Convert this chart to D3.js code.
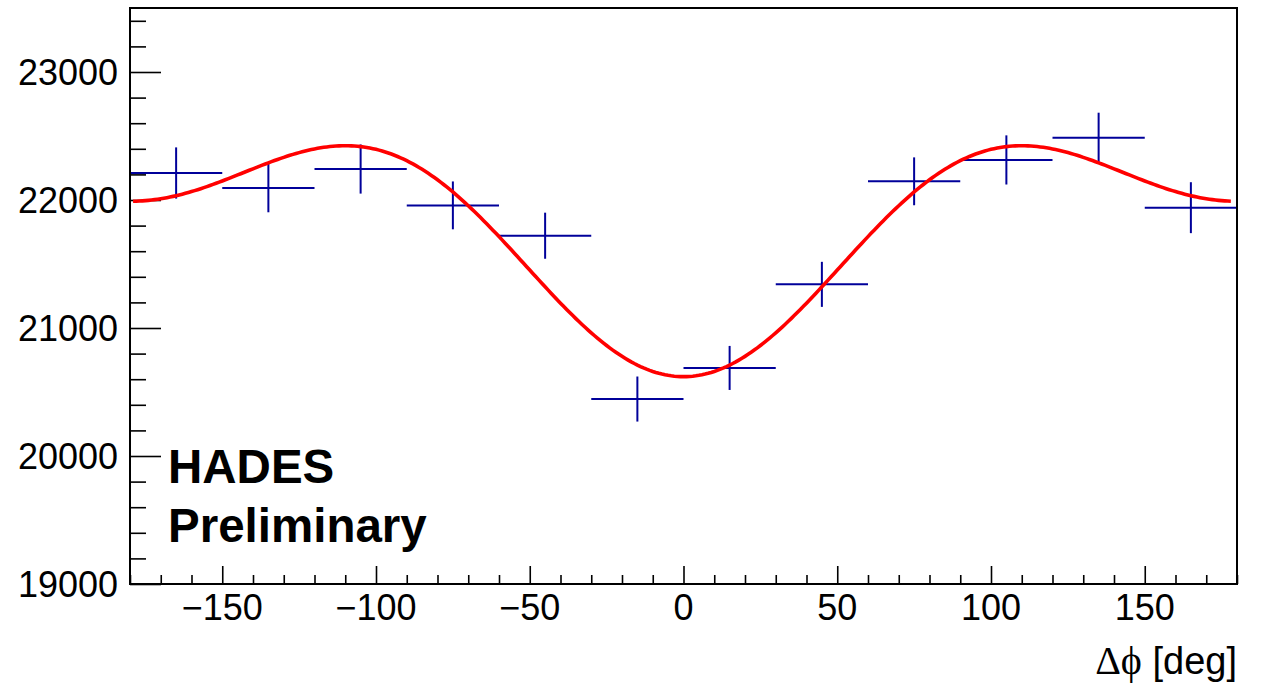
<!DOCTYPE html>
<html>
<head>
<meta charset="utf-8">
<script src="https://cdn.jsdelivr.net/npm/d3@7"></script>
<style>
  body { margin: 0; background: #fff; }
  svg { display: block; }
</style>
</head>
<body>
<div id="chart"></div>
<script>
// Bin centres (deg), counts and their errors
const binCenters = [-165, -135, -105, -75, -45, -15, 15, 45, 75, 105, 135, 165];
const counts     = [22211, 22094, 22242, 21958, 21721, 20445, 20688, 21341, 22146, 22313, 22487, 21940];
const countErrs  = [200, 190, 192, 187, 180, 176, 172, 176, 187, 192, 195, 199];
const binHalfWidth = 15;

// Fit: p0 + p1*cos(dphi) + p2*cos(2*dphi)
const fitParams = [21806, -685, -501];

const xTickLabels = [-150, -100, -50, 0, 50, 100, 150];
const yTickLabels = [19000, 20000, 21000, 22000, 23000];

const width = 1261, height = 687;
const margin = { top: 8, right: 24, bottom: 103, left: 130 };

const svg = d3.select("#chart").append("svg")
  .attr("width", width)
  .attr("height", height);

const x = d3.scaleLinear().domain([-180, 180]).range([margin.left, width - margin.right]);
const y = d3.scaleLinear().domain([19000, 23500]).range([height - margin.bottom, margin.top]);

const font = "'Liberation Sans', Arial, Helvetica, sans-serif";
const dataColor = "#00009a";

// clip to frame
svg.append("defs").append("clipPath").attr("id", "frame")
  .append("rect")
  .attr("x", margin.left).attr("y", margin.top)
  .attr("width", width - margin.left - margin.right)
  .attr("height", height - margin.top - margin.bottom);

// axes: ticks drawn inside the frame like ROOT
const xAxis = d3.axisBottom(x)
  .tickValues(d3.range(-180, 181, 10))
  .tickSize(0)
  .tickFormat("");
const gx = svg.append("g").attr("transform", `translate(0,${height - margin.bottom})`).call(xAxis);
gx.select(".domain").remove();
gx.selectAll(".tick line")
  .attr("y2", d => (d % 50 === 0 ? -18 : -9))
  .attr("stroke", "#000").attr("stroke-width", 1.6);

const yAxis = d3.axisLeft(y)
  .tickValues(d3.range(19000, 23501, 200))
  .tickSize(0)
  .tickFormat("");
const gy = svg.append("g").attr("transform", `translate(${margin.left},0)`).call(yAxis);
gy.select(".domain").remove();
gy.selectAll(".tick line")
  .attr("x2", d => (d % 1000 === 0 ? 31 : 16))
  .attr("stroke", "#000").attr("stroke-width", 1.6);

// tick labels
svg.append("g").selectAll("text")
  .data(xTickLabels)
  .enter().append("text")
  .attr("x", d => x(d))
  .attr("y", height - margin.bottom + 36)
  .attr("text-anchor", "middle")
  .attr("font-family", font)
  .attr("font-size", 36)
  .text(d => d < 0 ? "\u2212" + Math.abs(d) : d);

svg.append("g").selectAll("text")
  .data(yTickLabels)
  .enter().append("text")
  .attr("x", margin.left - 12)
  .attr("y", d => y(d) + 12.5)
  .attr("text-anchor", "end")
  .attr("font-family", font)
  .attr("font-size", 36)
  .text(d => d);

// axis title
const title = svg.append("text")
  .attr("x", width - margin.right)
  .attr("y", 674)
  .attr("text-anchor", "end")
  .attr("font-family", font)
  .attr("font-size", 38);
title.append("tspan").attr("font-family", "'Liberation Serif', serif").attr("font-size", 40).text("\u0394\u03D5");
title.append("tspan").text(" [deg]");

const plot = svg.append("g").attr("clip-path", "url(#frame)");

// data points with error bars
const pts = binCenters.map((c, i) => ({ c, v: counts[i], e: countErrs[i] }));
const pg = plot.append("g").attr("stroke", dataColor).attr("stroke-width", 2);
pg.selectAll("line.h").data(pts).enter().append("line")
  .attr("class", "h")
  .attr("x1", d => x(d.c - binHalfWidth)).attr("x2", d => x(d.c + binHalfWidth))
  .attr("y1", d => y(d.v)).attr("y2", d => y(d.v));
pg.selectAll("line.v").data(pts).enter().append("line")
  .attr("class", "v")
  .attr("x1", d => x(d.c)).attr("x2", d => x(d.c))
  .attr("y1", d => y(d.v - d.e)).attr("y2", d => y(d.v + d.e));

// fit function
const fit = dphi => {
  const r = dphi * Math.PI / 180;
  return fitParams[0] + fitParams[1] * Math.cos(r) + fitParams[2] * Math.cos(2 * r);
};
const fitPts = d3.range(-179, 178.01, 1).map(d => [d, fit(d)]);
plot.append("path")
  .datum(fitPts)
  .attr("fill", "none")
  .attr("stroke", "#ff0000")
  .attr("stroke-width", 3.6)
  .attr("d", d3.line().x(d => x(d[0])).y(d => y(d[1])));

// frame
svg.append("rect")
  .attr("x", margin.left).attr("y", margin.top)
  .attr("width", width - margin.left - margin.right)
  .attr("height", height - margin.top - margin.bottom)
  .attr("fill", "none")
  .attr("stroke", "#000")
  .attr("stroke-width", 2);

// label
const lbl = svg.append("text")
  .attr("font-family", font)
  .attr("font-weight", "bold")
  .attr("font-size", 47.5);
lbl.append("tspan").attr("x", 168).attr("y", 483).text("HADES");
lbl.append("tspan").attr("x", 168).attr("y", 542).text("Preliminary");
</script>
</body>
</html>
